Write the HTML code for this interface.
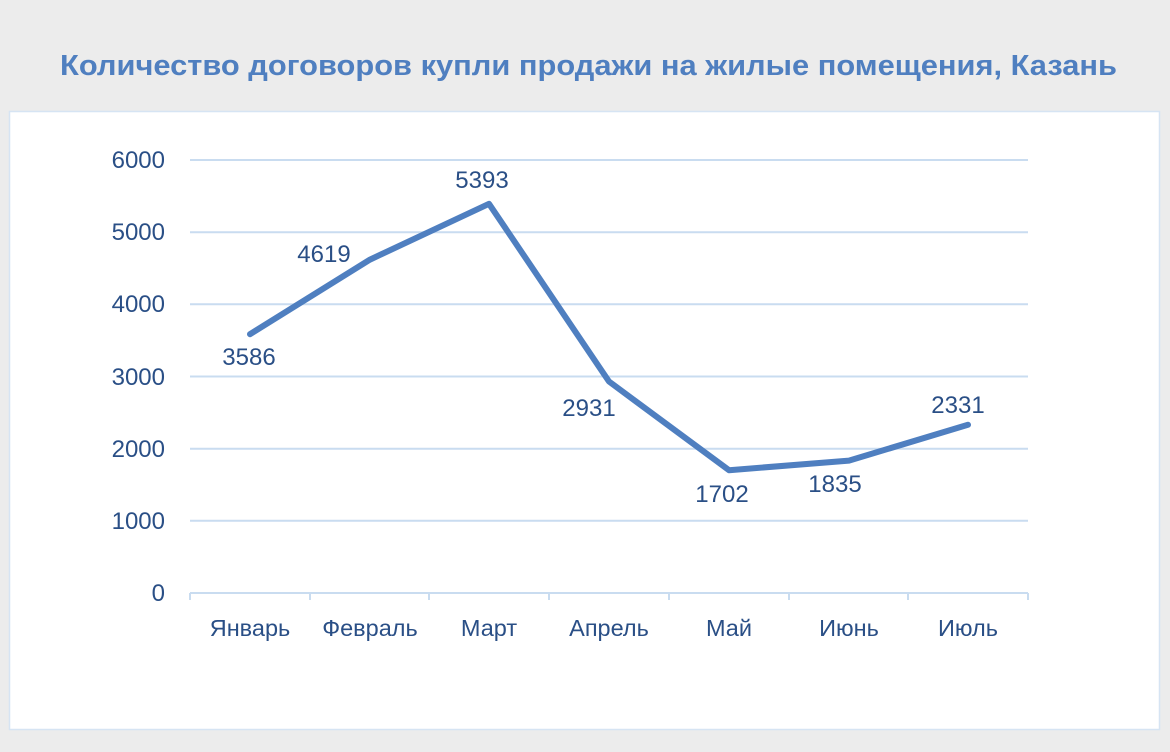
<!DOCTYPE html>
<html><head><meta charset="utf-8"><style>
body{margin:0;width:1170px;height:752px;background:#ececec;overflow:hidden;font-family:"Liberation Sans","DejaVu Sans",sans-serif}
</style></head><body>
<svg width="1170" height="752" xmlns="http://www.w3.org/2000/svg" style="position:absolute;left:0;top:0">
<rect x="0" y="0" width="1170" height="752" fill="#ececec"/>
<text x="60" y="75" textLength="1057" lengthAdjust="spacingAndGlyphs" font-size="29" font-weight="bold" fill="#4f7fc0" font-family="Liberation Sans, DejaVu Sans, sans-serif">Количество договоров купли продажи  на жилые помещения, Казань</text>
<rect x="9.5" y="111.5" width="1150" height="618" fill="#fff" stroke="#d6e4f3" stroke-width="1.5"/>
<g stroke="#c9dcf0" stroke-width="2">
<line x1="190" y1="160" x2="1028" y2="160"/>
<line x1="190" y1="232.2" x2="1028" y2="232.2"/>
<line x1="190" y1="304.3" x2="1028" y2="304.3"/>
<line x1="190" y1="376.5" x2="1028" y2="376.5"/>
<line x1="190" y1="448.7" x2="1028" y2="448.7"/>
<line x1="190" y1="520.8" x2="1028" y2="520.8"/>
<line x1="190" y1="593" x2="1028" y2="593"/>
<line x1="190" y1="593" x2="190" y2="600"/>
<line x1="310" y1="593" x2="310" y2="600"/>
<line x1="429" y1="593" x2="429" y2="600"/>
<line x1="549" y1="593" x2="549" y2="600"/>
<line x1="669" y1="593" x2="669" y2="600"/>
<line x1="789" y1="593" x2="789" y2="600"/>
<line x1="908" y1="593" x2="908" y2="600"/>
<line x1="1028" y1="593" x2="1028" y2="600"/>
</g>
<g font-size="24" fill="#2a4f86" text-anchor="end">
<text x="165" y="168">6000</text>
<text x="165" y="240">5000</text>
<text x="165" y="312">4000</text>
<text x="165" y="385">3000</text>
<text x="165" y="457">2000</text>
<text x="165" y="529">1000</text>
<text x="165" y="601">0</text>
</g>
<g font-size="23.5" fill="#2a4f86" text-anchor="middle">
<text x="250" y="636">Январь</text>
<text x="370" y="636">Февраль</text>
<text x="489" y="636">Март</text>
<text x="609" y="636">Апрель</text>
<text x="729" y="636">Май</text>
<text x="849" y="636">Июнь</text>
<text x="968" y="636">Июль</text>
</g>
<polyline points="250,334.2 370,259.6 489,203.8 609,381.5 729,470.2 849,460.6 968,424.8" fill="none" stroke="#4f7fc0" stroke-width="6" stroke-linejoin="round" stroke-linecap="round"/>
<g font-size="24" fill="#2a4f86" text-anchor="middle">
<text x="249" y="365">3586</text>
<text x="324" y="262">4619</text>
<text x="482" y="188">5393</text>
<text x="589" y="416">2931</text>
<text x="722" y="502">1702</text>
<text x="835" y="492">1835</text>
<text x="958" y="413">2331</text>
</g>
</svg>
</body></html>
